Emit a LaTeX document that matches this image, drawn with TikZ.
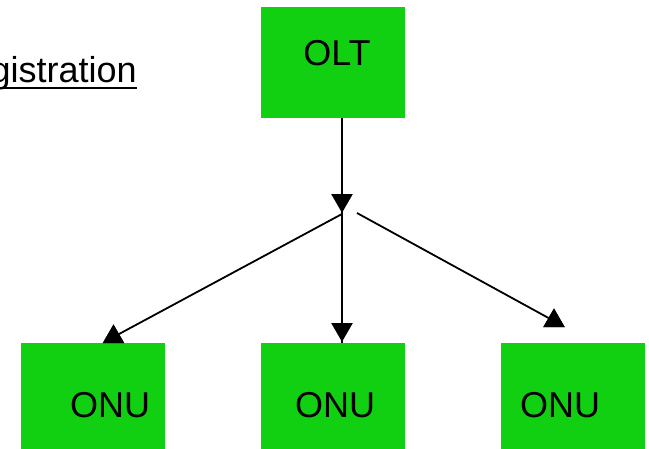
\documentclass[tikz,border=0pt]{standalone}
\usepackage{fontspec}
\setmainfont{Liberation Sans}
\usetikzlibrary{shapes.geometric}
\definecolor{boxgreen}{RGB}{17,207,17}
\tikzset{
  unitbox/.style={fill=boxgreen, minimum width=144pt, minimum height=106pt, inner sep=0pt},
  head/.style={fill=black, regular polygon, regular polygon sides=3, minimum size=25pt, inner sep=0pt},
  downhead/.style={head, shape border rotate=180},
  link/.style={line width=1.8pt},
  big/.style={font=\fontsize{36}{43}\selectfont, inner sep=0pt}
}
\begin{document}
\begin{tikzpicture}[x=1pt,y=-1pt]
  \useasboundingbox (0,0) rectangle (649,449);
  \newcommand\onuy{396}

  % boxes
  \node[unitbox, minimum height=111pt] (olt) at (333,62.5) {};
  \node[unitbox] (onuA) at (93,\onuy) {};
  \node[unitbox] (onuB) at (333,\onuy) {};
  \node[unitbox] (onuC) at (573,\onuy) {};

  \node[big] at ([xshift=4pt,yshift=9.5pt]olt.center) {OLT};
  \node[big] at ([xshift=17pt,yshift=-9.5pt]onuA.center) {ONU};
  \node[big] at ([xshift=2pt,yshift=-9.5pt]onuB.center) {ONU};
  \node[big] at ([xshift=-13pt,yshift=-9.5pt]onuC.center) {ONU};

  % title, cut at the left
  \node[big, anchor=base east] (reg) at (137,83) {Registration};
  \draw[line width=1.8pt] ([yshift=-5pt]reg.base west) -- ([yshift=-5pt]reg.base east);

  % splitter
  \coordinate (split) at (342,214);
  \coordinate (gap) at (357,213);
  \node[head] (headA) at (113.5,337) {};
  \node[head] (headC) at (554,321) {};

  \draw[link] (olt.south -| split) -- (split);
  \draw[link] (split) -- (split |- onuB.north);
  \draw[link] (split) -- (headA.center);
  \draw[link] (gap) -- (headC.center);

  \node[downhead] (headTop) at (342,200.3) {};
  \node[downhead] (headB) at (342,329.3) {};
  \node[head] at (headA) {};
  \node[head] at (headC) {};
\end{tikzpicture}
\end{document}
